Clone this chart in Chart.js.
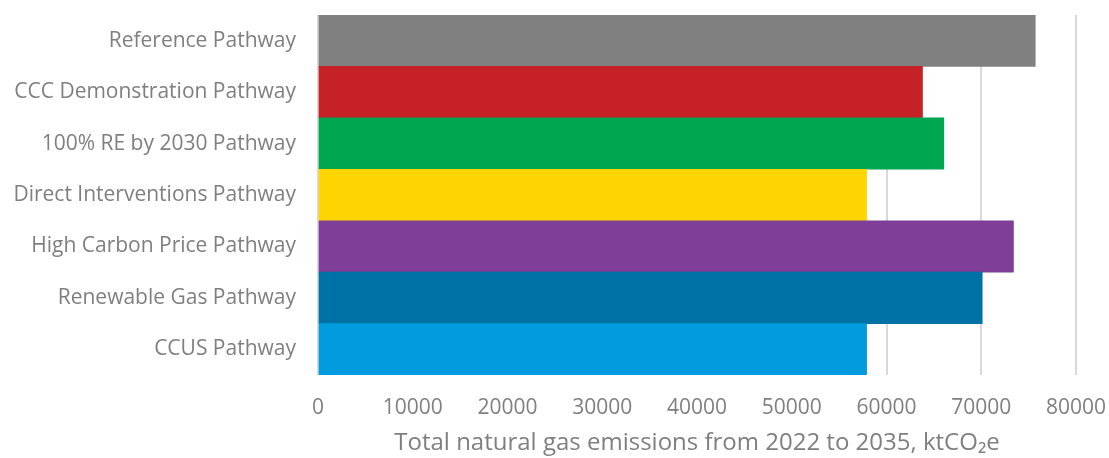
<!DOCTYPE html>
<html>
<head>
<meta charset="utf-8">
<script src="https://cdn.jsdelivr.net/npm/chart.js@4.4.0/dist/chart.umd.min.js"></script>
<style>
  html, body { margin: 0; padding: 0; background: #fff; }
  #wrap { width: 1109px; height: 458px; }
</style>
</head>
<body>
<div id="wrap"><canvas id="gas-chart" width="1109" height="458"></canvas></div>
<script>
const pathways = [
    'Reference Pathway',
    'CCC Demonstration Pathway',
    '100% RE by 2030 Pathway',
    'Direct Interventions Pathway',
    'High Carbon Price Pathway',
    'Renewable Gas Pathway',
    'CCUS Pathway'
];
const emissions = [75700, 63800, 66050, 57900, 73400, 70100, 57900];
const barColors = ['#808080', '#C62127', '#00A650', '#FFD500', '#7F3F98', '#0071A4', '#009CDE'];
const xTicks = [0, 10000, 20000, 30000, 40000, 50000, 60000, 70000, 80000];
const xTitle = 'Total natural gas emissions from 2022 to 2035, ktCO\u2082e';

const textGrey = '#7f7f7f';

// keep the plot box where the reference has it
function noScalePadding(scale) {
    scale.paddingTop = 0;
    scale.paddingBottom = 0;
    scale.paddingLeft = 0;
    scale.paddingRight = 0;
}

function init() {
    const ctx = document.getElementById('gas-chart').getContext('2d');
    window.gasChart = new Chart(ctx, {
        type: 'bar',
        data: {
            labels: pathways,
            datasets: [{
                data: emissions,
                backgroundColor: barColors,
                barPercentage: 1,
                categoryPercentage: 1,
                borderWidth: 0
            }]
        },
        options: {
            indexAxis: 'y',
            responsive: false,
            animation: false,
            layout: { padding: { top: 15, right: 33, left: 0, bottom: 0 } },
            plugins: {
                legend: { display: false },
                tooltip: { enabled: false }
            },
            scales: {
                x: {
                    min: 0,
                    max: 80000,
                    afterBuildTicks: scale => {
                        scale.ticks = xTicks.map(v => ({ value: v }));
                    },
                    afterFit: scale => {
                        scale.height = 83;
                        noScalePadding(scale);
                    },
                    grid: { color: '#d9d9d9', lineWidth: 2, drawTicks: false },
                    border: { display: false },
                    ticks: {
                        color: textGrey,
                        font: { family: 'Open Sans', size: 21 },
                        padding: 20,
                        maxRotation: 0,
                        callback: v => String(v)
                    },
                    title: {
                        display: true,
                        text: xTitle,
                        color: textGrey,
                        font: { family: 'Open Sans', size: 24 },
                        padding: { top: 6, bottom: 0 }
                    }
                },
                y: {
                    afterFit: scale => {
                        scale.width = 318;
                        noScalePadding(scale);
                    },
                    grid: { display: false, drawTicks: false },
                    border: { display: false },
                    ticks: {
                        color: textGrey,
                        font: { family: 'Open Sans', size: 21 },
                        padding: 22
                    }
                }
            }
        }
    });
}

document.addEventListener('DOMContentLoaded', init);
</script>
</body>
</html>
